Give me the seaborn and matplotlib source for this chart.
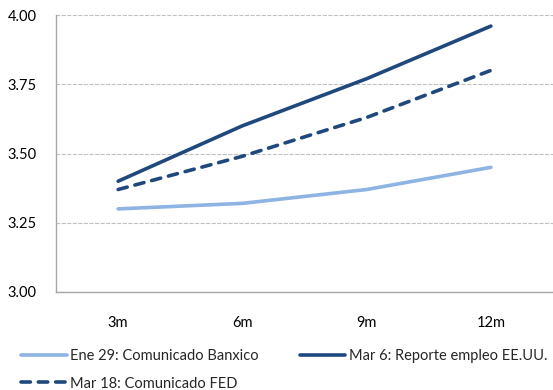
import pandas as pd
import matplotlib.pyplot as plt
import seaborn as sns
from matplotlib.lines import Line2D

# datos
plazos = ['3m', '6m', '9m', '12m']
ene29 = [3.30, 3.32, 3.37, 3.45]
mar6 = [3.40, 3.60, 3.77, 3.96]
mar18 = [3.37, 3.49, 3.63, 3.80]
series = ['Ene 29: Comunicado Banxico', 'Mar 6: Reporte empleo EE.UU.', 'Mar 18: Comunicado FED']
y_ticks = [3.00, 3.25, 3.50, 3.75, 4.00]

df = pd.DataFrame({
    'plazo': plazos * 3,
    'tasa': ene29 + mar6 + mar18,
    'serie': [series[0]] * 4 + [series[1]] * 4 + [series[2]] * 4,
})

sns.set_style('white')
plt.rcParams['font.family'] = ['Lato', 'DejaVu Sans']
plt.rcParams['lines.solid_capstyle'] = 'round'
plt.rcParams['lines.dash_capstyle'] = 'round'

fig = plt.figure(figsize=(5.53, 3.90), dpi=100)
ax = fig.add_axes([0.1013, 0.2513, 0.8987, 0.7102])

colores = {series[0]: '#8db4e2', series[1]: '#1f497d', series[2]: '#1f497d'}
guion = (2.6, 2.2)
estilos = {series[0]: '', series[1]: '', series[2]: guion}

sns.lineplot(data=df, x='plazo', y='tasa', hue='serie', style='serie',
             palette=colores, dashes=estilos, linewidth=2.6, ax=ax, legend=False,
             sort=False)

ax.set_xlim(-0.5, 3.5)
ax.set_ylim(3.0, 4.0)
ax.set_yticks(y_ticks)
ax.set_yticklabels([f'{v:.2f}' for v in y_ticks])
ax.set_xlabel('')
ax.set_ylabel('')
ax.yaxis.grid(True, linestyle=(0, (3, 2)), color='#c0c0c0', linewidth=0.8)
ax.xaxis.grid(False)
for s in ['top', 'right']:
    ax.spines[s].set_visible(False)
for s in ['left', 'bottom']:
    ax.spines[s].set_color('#a6a6a6')
    ax.spines[s].set_linewidth(1)
ax.tick_params(axis='both', length=0, labelsize=10.5, colors='black')
ax.tick_params(axis='x', pad=17)
ax.tick_params(axis='y', pad=14)

# leyenda: orden por filas
handles = [
    Line2D([], [], color='#8db4e2', linewidth=2.6),
    Line2D([], [], color='#1f497d', linewidth=2.6, dashes=guion),
    Line2D([], [], color='#1f497d', linewidth=2.6),
]
labels = [series[0], series[2], series[1]]
fig.legend(handles, labels, loc='lower left', bbox_to_anchor=(0.015, -0.035), ncol=2,
           frameon=False, fontsize=10.5, handlelength=3.1, handletextpad=0.25,
           columnspacing=2.8, labelspacing=0.9)

fig.savefig('out.png', dpi=100)
